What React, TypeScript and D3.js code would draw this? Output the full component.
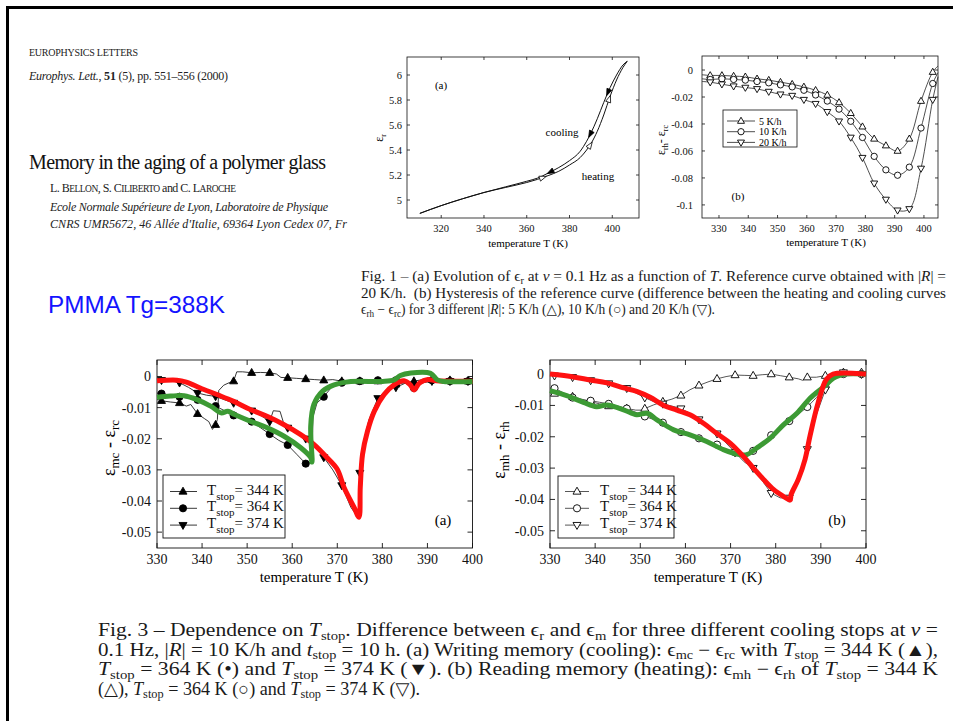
import React from "react";
import * as d3 from "d3";

type P = [number, number];

const SERIF = '"Liberation Serif","DejaVu Serif",serif';
const SANS = '"Liberation Sans",Arial,sans-serif';

// ---------- Fig. 1(a) ----------
const fig1aXTicks = [320, 340, 360, 380, 400];
const fig1aYTicks = [5, 5.2, 5.4, 5.6, 5.8, 6];
const fig1aCooling: P[] = [
  [310, 4.893], [320, 4.955], [330, 5.01], [340, 5.06], [350, 5.105], [360, 5.15], [365, 5.175],
  [370, 5.215], [375, 5.26], [380, 5.315], [385, 5.39], [388, 5.47], [390, 5.535], [393, 5.65],
  [396, 5.78], [399, 5.9], [402, 6.0], [405, 6.08], [407, 6.11],
];
const fig1aHeating: P[] = [
  [310, 4.893], [320, 4.955], [330, 5.01], [340, 5.06], [350, 5.1], [360, 5.14], [365, 5.165],
  [370, 5.195], [375, 5.23], [380, 5.28], [385, 5.34], [388, 5.4], [390, 5.45], [393, 5.55],
  [396, 5.68], [399, 5.83], [402, 5.96], [405, 6.06], [407, 6.11],
];
const fig1aCoolArrows: P[] = [[371, 5.224], [389.7, 5.525], [398, 5.86]];
const fig1aHeatArrows: P[] = [[367.6, 5.18], [389.7, 5.44], [398.6, 5.81]];

// ---------- Fig. 1(b) ----------
const fig1bXTicks = [330, 340, 350, 360, 370, 380, 390, 400];
const fig1bYTicks = [0, -0.02, -0.04, -0.06, -0.08, -0.1];
const fig1bRate5: P[] = [
  [324.2, -0.0035], [327, -0.004], [331, -0.004], [335, -0.0045], [339, -0.005], [343, -0.0065],
  [347, -0.0075], [351, -0.009], [355, -0.0105], [359, -0.0125], [363, -0.015], [367, -0.0185],
  [371, -0.024], [375, -0.032], [379, -0.042], [383, -0.051], [387, -0.056], [391, -0.06],
  [395, -0.051], [399, -0.023], [403, -0.0015], [404.8, 0.003],
];
const fig1bRate10: P[] = [
  [324.2, -0.0065], [327, -0.007], [331, -0.0065], [335, -0.007], [339, -0.0075], [343, -0.0085],
  [347, -0.0095], [351, -0.011], [355, -0.0125], [359, -0.015], [363, -0.0185], [367, -0.023],
  [371, -0.029], [375, -0.038], [379, -0.05], [383, -0.064], [387, -0.074], [391, -0.078],
  [395, -0.072], [399, -0.043], [403, -0.01], [404.8, -0.002],
];
const fig1bRate20: P[] = [
  [324.2, -0.0085], [327, -0.009], [331, -0.0105], [335, -0.012], [339, -0.013], [343, -0.014],
  [347, -0.016], [351, -0.018], [355, -0.019], [359, -0.022], [363, -0.025], [367, -0.031],
  [371, -0.038], [375, -0.05], [379, -0.065], [383, -0.084], [387, -0.096], [391, -0.104],
  [395, -0.103], [399, -0.073], [403, -0.022], [404.8, -0.005],
];
const fig1bLegend = ["5 K/h", "10 K/h", "20 K/h"];

// ---------- Fig. 3 ----------
const fig3XTicks = [330, 340, 350, 360, 370, 380, 390, 400];
const fig3YTicks = [0, -0.01, -0.02, -0.03, -0.04, -0.05];
const fig3Legend = ["344 K", "364 K", "374 K"];

const fig3aStop344: P[] = [
  [330, -0.0073], [331, -0.0078], [333, -0.0082], [335, -0.0085], [336.5, -0.0095], [337.5, -0.009],
  [339, -0.012], [340.5, -0.0135], [341.5, -0.0145], [342.3, -0.017], [343, -0.0155], [343.4, -0.0138],
  [343.7, -0.0045], [344.8, -0.0028], [346, -0.002], [347, -0.0015], [347.7, 0.0015], [349, 0.0015],
  [351, 0.0012], [353, 0.0013], [355, 0.0012], [356.5, 0.0008], [357.5, -0.0003], [359, -0.0004],
  [361, -0.0006], [363, -0.0008], [365, -0.001], [367, -0.0012], [369, -0.001], [371, -0.0015],
  [373, -0.0013], [375, -0.0015], [377, -0.0012], [379, -0.0015], [381, -0.0013], [383, -0.0025],
  [385, -0.002], [387, -0.0015], [389, -0.001], [391, -0.001], [393, -0.0015], [395, -0.0012],
  [397, -0.0015], [399, -0.0015], [400, -0.0015],
];
const fig3aStop364: P[] = [
  [330, -0.0053], [331, -0.0055], [333, -0.006], [335, -0.0065], [337, -0.007], [339, -0.0075],
  [341, -0.0085], [343, -0.0095], [345, -0.011], [347, -0.0125], [349, -0.0135], [351, -0.0145],
  [353, -0.0165], [355, -0.0185], [357, -0.0205], [359, -0.022], [361, -0.025], [363, -0.028],
  [364.4, -0.0275], [364.6, -0.013], [365.5, -0.0085], [367, -0.0065], [369, -0.003], [371, -0.002],
  [373, -0.0017], [375, -0.0015], [377, -0.0014], [379, -0.0012], [381, -0.0012], [383, -0.0012],
  [385, -0.002], [387, -0.0037], [388.5, -0.0025], [390, -0.0012], [391, -0.0012], [393, -0.0015],
  [395, -0.0015], [397, -0.0015], [399, -0.0015], [400, -0.0015],
];
const fig3aStop374: P[] = [
  [330, -0.0012], [331, -0.0012], [333, -0.0013], [335, -0.002], [337, -0.0035], [339, -0.0053],
  [341, -0.006], [343, -0.0064], [345, -0.0075], [347, -0.0085], [349, -0.0095], [351, -0.011],
  [353, -0.0125], [355, -0.0145], [355.8, -0.011], [357.3, -0.0112], [358, -0.0145], [359, -0.0165],
  [361, -0.018], [363, -0.02], [365, -0.0225], [367, -0.026], [369, -0.03], [371, -0.035],
  [373, -0.042], [374.7, -0.0455], [375, -0.031], [376, -0.02], [377, -0.014], [379, -0.007],
  [381, -0.004], [383, -0.0035], [385, -0.0022], [387, -0.003], [389, -0.002], [391, -0.0015],
  [393, -0.0015], [395, -0.0015], [397, -0.0015], [399, -0.0015], [400, -0.0015],
];
const fig3aRed: P[] = [
  [330, -0.0014], [334.4, -0.0012], [336.5, -0.0018], [339.6, -0.0037], [343.3, -0.0058],
  [347, -0.008], [350.7, -0.0106], [354.4, -0.0128], [358.1, -0.0154], [361.8, -0.0186],
  [364.8, -0.0218], [367.7, -0.026], [370, -0.0298], [371.5, -0.0357], [373.7, -0.042],
  [374.8, -0.0452], [375.1, -0.0356], [375.6, -0.025], [376.7, -0.0176], [378.2, -0.0112],
  [380.4, -0.0058], [382.6, -0.0027], [384.8, -0.0014], [386.2, -0.0027], [387, -0.0043],
  [388.3, -0.002], [390.1, -0.001], [392, -0.0014], [400, -0.0015],
];
const fig3aGreen: P[] = [
  [330, -0.0067], [333, -0.0063], [336, -0.0062], [339, -0.0075], [342, -0.0096], [344.2, -0.0117],
  [345.7, -0.0112], [347.2, -0.0122], [350.8, -0.0144], [354.5, -0.0165], [358.2, -0.0192],
  [361.9, -0.0229], [364.1, -0.026], [364.4, -0.0275], [364.1, -0.016], [364.8, -0.009],
  [366.7, -0.0048], [369.3, -0.0027], [373, -0.0016], [380, -0.0016], [382.6, -0.0011],
  [384, 0.0003], [386.3, 0.0011], [390.7, 0.001], [392.2, -0.0011], [393.6, -0.0016], [400, -0.0016],
];

const fig3bStop344: P[] = [
  [330, -0.006], [331, -0.0062], [333, -0.0068], [335, -0.0072], [337, -0.008], [339, -0.0088],
  [341, -0.0095], [343, -0.0102], [345, -0.0106], [347, -0.011], [349, -0.0115], [350.5, -0.0115],
  [351, -0.011], [353, -0.0098], [355, -0.0088], [357, -0.008], [359, -0.0068], [361, -0.005],
  [363, -0.0036], [365, -0.0025], [367, -0.0015], [369, -0.0008], [371, -0.0003], [373, -0.0004],
  [375, -0.0005], [377, -0.0002], [379, 0], [381, -0.0005], [383, -0.001], [385, -0.0015],
  [386, -0.002], [387, -0.001], [389, -0.001], [391, -0.0005], [393, 0], [395, 0.0005],
  [397, 0.0002], [399, 0.0005], [400, 0.0008],
];
const fig3bStop364: P[] = [
  [330, -0.0045], [331, -0.0045], [333, -0.006], [335, -0.0075], [337, -0.0082], [339, -0.0085],
  [341, -0.009], [343, -0.0095], [345, -0.0102], [347, -0.011], [349, -0.0122], [351, -0.0135],
  [353, -0.0145], [355, -0.0155], [357, -0.017], [359, -0.0185], [361, -0.0195], [363, -0.0205],
  [365, -0.0215], [367, -0.0225], [369, -0.024], [371, -0.025], [373, -0.0255], [375, -0.0245],
  [377, -0.022], [379, -0.0195], [381, -0.017], [383, -0.015], [385, -0.0128], [387, -0.0105],
  [389, -0.0075], [391, -0.004], [393, -0.0012], [395, 0], [397, 0], [399, 0], [400, 0],
];
const fig3bStop374: P[] = [
  [330, -0.0003], [331, -0.0005], [333, -0.0008], [335, -0.001], [337, -0.0015], [339, -0.002],
  [341, -0.0025], [343, -0.003], [345, -0.0038], [347, -0.0045], [349, -0.006], [351, -0.0075],
  [353, -0.0088], [355, -0.0095], [357, -0.0102], [359, -0.011], [361, -0.0125], [363, -0.0145],
  [365, -0.0165], [367, -0.019], [369, -0.022], [371, -0.025], [373, -0.028], [375, -0.03],
  [377, -0.034], [379, -0.038], [381, -0.0395], [383, -0.0395], [384, -0.037], [385, -0.033],
  [387, -0.024], [389, -0.013], [391, -0.005], [393, -0.0008], [395, 0.0005], [397, 0], [399, 0], [400, 0],
];
const fig3bRed: P[] = [
  [330, 0], [335.2, -0.0009], [338.9, -0.0019], [342.6, -0.0028], [346.3, -0.0044], [349.2, -0.0055],
  [352.2, -0.0074], [355.2, -0.01], [358.1, -0.0115], [361, -0.013], [364, -0.0157], [366.9, -0.0189],
  [369.9, -0.022], [372.8, -0.0262], [375, -0.0299], [377.3, -0.0336], [379.5, -0.0368],
  [381.7, -0.039], [383.2, -0.0402], [383.4, -0.0385], [385, -0.0336], [386.5, -0.0272],
  [387.6, -0.0197], [389.4, -0.0091], [391.2, -0.0017], [392.7, 0], [400, 0],
];
const fig3bGreen: P[] = [
  [330, -0.0053], [333.7, -0.0069], [337.4, -0.009], [340.3, -0.0104], [342.6, -0.0099],
  [346.3, -0.0114], [349.2, -0.013], [351.5, -0.0125], [353.7, -0.0146], [357.4, -0.0178],
  [361, -0.0194], [364.7, -0.0215], [368.4, -0.0241], [372.1, -0.0257], [373.6, -0.0257],
  [375.8, -0.0236], [378.8, -0.0204], [381.7, -0.0162], [384.7, -0.0125], [387.6, -0.0077],
  [390.6, -0.0041], [392.7, -0.0014], [394.2, -0.0004], [395.5, 0], [400, 0],
];

// ---------- Captions ----------
const fig1Caption = [
  "Fig. 1 – (a) Evolution of ϵ_{r} at *ν* = 0.1 Hz as a function of *T*. Reference curve obtained with |*R*| =",
  "20 K/h.  (b) Hysteresis of the reference curve (difference between the heating and cooling curves",
  "ϵ_{rh} − ϵ_{rc}) for 3 different |*R*|: 5 K/h (△), 10 K/h (○) and 20 K/h (▽).",
];
const fig3Caption = [
  "Fig. 3 – Dependence on *T*_{stop}. Difference between ϵ_{r} and ϵ_{m} for three different cooling stops at *ν* =",
  "0.1 Hz, |*R*| = 10 K/h and *t*_{stop} = 10 h. (a) Writing memory (cooling): ϵ_{mc} − ϵ_{rc} with *T*_{stop} = 344 K (▲),",
  "*T*_{stop} = 364 K (•) and *T*_{stop} = 374 K (▼). (b) Reading memory (heating): ϵ_{mh} − ϵ_{rh} of *T*_{stop} = 344 K",
  "(△), *T*_{stop} = 364 K (○) and *T*_{stop} = 374 K (▽).",
];

type Scale = d3.ScaleLinear<number, number>;

function Rich({ x, y, text, fs, len, adjust }: { x: number; y: number; text: string; fs: number; len?: number; adjust?: string }) {
  const parts = text.split(/(_\{[^}]*\}|\*[^*]*\*)/).filter((s) => s.length > 0);
  const sub = fs * 0.22;
  let shifted = false;
  const kids = parts.map((p, i) => {
    if (p.startsWith("_{")) {
      shifted = true;
      return (
        <tspan key={i} dy={sub} fontSize={fs * 0.68}>
          {p.slice(2, -1)}
        </tspan>
      );
    }
    const dy = shifted ? -sub : undefined;
    shifted = false;
    if (p.startsWith("*"))
      return (
        <tspan key={i} dy={dy} fontStyle="italic">
          {p.slice(1, -1)}
        </tspan>
      );
    return (
      <tspan key={i} dy={dy}>
        {p}
      </tspan>
    );
  });
  return (
    <text x={x} y={y} fontSize={fs} textLength={len} lengthAdjust={len ? adjust || "spacing" : undefined} xmlSpace="preserve" fill="#1a1a1a">
      {kids}
    </text>
  );
}

function Frame({
  xs, ys, xTicks, yTicks, fs, tick, xLabelDy, yLabelDx, sw = 0.9,
}: {
  xs: Scale; ys: Scale; xTicks: number[]; yTicks: number[]; fs: number; tick: number;
  xLabelDy: number; yLabelDx: number; sw?: number;
}) {
  const [x0, x1] = xs.range();
  const [yb, yt] = ys.range();
  return (
    <g stroke="none">
      <rect x={x0} y={yt} width={x1 - x0} height={yb - yt} fill="none" stroke="#111" strokeWidth={sw} />
      {xTicks.map((t) => (
        <g key={"x" + t}>
          <line x1={xs(t)} x2={xs(t)} y1={yb} y2={yb - tick} stroke="#111" strokeWidth={sw} />
          <line x1={xs(t)} x2={xs(t)} y1={yt} y2={yt + tick} stroke="#111" strokeWidth={sw} />
          <text x={xs(t)} y={yb + xLabelDy} textAnchor="middle" fontSize={fs} fill="#111">
            {String(t)}
          </text>
        </g>
      ))}
      {yTicks.map((t) => (
        <g key={"y" + t}>
          <line x1={x0} x2={x0 + tick} y1={ys(t)} y2={ys(t)} stroke="#111" strokeWidth={sw} />
          <line x1={x1} x2={x1 - tick} y1={ys(t)} y2={ys(t)} stroke="#111" strokeWidth={sw} />
          <text x={x0 - yLabelDx} y={ys(t)} dy="0.35em" textAnchor="end" fontSize={fs} fill="#111">
            {String(t)}
          </text>
        </g>
      ))}
    </g>
  );
}

type Shape = "up" | "down" | "circle";
function Marker({ shape, x, y, s, filled }: { shape: Shape; x: number; y: number; s: number; filled: boolean }) {
  const fill = filled ? "#000" : "#fff";
  if (shape === "circle")
    return <circle cx={x} cy={y} r={s * 0.45} fill={fill} stroke="#000" strokeWidth={0.9} />;
  const h = s * 0.87;
  const pts =
    shape === "up"
      ? [[x, y - h * 0.62], [x - s / 2, y + h * 0.38], [x + s / 2, y + h * 0.38]]
      : [[x, y + h * 0.62], [x - s / 2, y - h * 0.38], [x + s / 2, y - h * 0.38]];
  return <polygon points={pts.map((p) => p.join(",")).join(" ")} fill={fill} stroke="#000" strokeWidth={0.9} />;
}

const isMarkerT = (t: number) => Number.isInteger(t) && t % 4 === 3;

function Series({
  data, xs, ys, shape, filled, s, stroke = "#222", sw = 0.9, curve = d3.curveLinear,
}: {
  data: P[]; xs: Scale; ys: Scale; shape: Shape; filled: boolean; s: number; stroke?: string; sw?: number; curve?: any;
}) {
  const line = d3.line<P>().x((d) => xs(d[0])).y((d) => ys(d[1])).curve(curve);
  return (
    <g>
      <path d={line(data) || ""} fill="none" stroke={stroke} strokeWidth={sw} />
      {data.filter((d) => isMarkerT(d[0])).map((d, i) => (
        <Marker key={i} shape={shape} x={xs(d[0])} y={ys(d[1])} s={s} filled={filled} />
      ))}
    </g>
  );
}

function Thick({ data, xs, ys, color }: { data: P[]; xs: Scale; ys: Scale; color: string }) {
  const line = d3.line<P>().x((d) => xs(d[0])).y((d) => ys(d[1])).curve(d3.curveCatmullRom.alpha(0.5));
  return <path d={line(data) || ""} fill="none" stroke={color} strokeWidth={5} strokeLinejoin="round" />;
}

function Arrow({ curve, pt, xs, ys, reverse, filled }: { curve: P[]; pt: P; xs: Scale; ys: Scale; reverse: boolean; filled: boolean }) {
  let i = 0;
  while (i < curve.length - 2 && curve[i + 1][0] < pt[0]) i++;
  const a = curve[i], b = curve[i + 1];
  let ang = Math.atan2(ys(b[1]) - ys(a[1]), xs(b[0]) - xs(a[0]));
  if (reverse) ang += Math.PI;
  const cx = xs(pt[0]), cy = ys(pt[1]);
  const L = 7, Wd = 2.6;
  const tip = [cx + Math.cos(ang) * L * 0.5, cy + Math.sin(ang) * L * 0.5];
  const bx = cx - Math.cos(ang) * L * 0.5, by = cy - Math.sin(ang) * L * 0.5;
  const p1 = [bx - Math.sin(ang) * Wd, by + Math.cos(ang) * Wd];
  const p2 = [bx + Math.sin(ang) * Wd, by - Math.cos(ang) * Wd];
  return (
    <polygon
      points={[tip, p1, p2].map((p) => p.join(",")).join(" ")}
      fill={filled ? "#000" : "#fff"}
      stroke="#000"
      strokeWidth={0.8}
    />
  );
}

function StopLabel({ x, y, value }: { x: number; y: number; value: string }) {
  return (
    <text x={x} y={y} fontSize={15} fill="#111" xmlSpace="preserve">
      T<tspan dy={5} fontSize={11}>stop</tspan>
      <tspan dy={-5}>{"= " + value}</tspan>
    </text>
  );
}

export default function App() {
  // Fig 1a
  const x1a = d3.scaleLinear().domain([304, 412.5]).range([407, 639]);
  const y1a = d3.scaleLinear().domain([4.856, 6.144]).range([218, 57]);
  // Fig 1b
  const x1b = d3.scaleLinear().domain([324.2, 404.8]).range([702, 938]);
  const y1b = d3.scaleLinear().domain([-0.1097, 0.0104]).range([218, 56]);
  // Fig 3a
  const x3a = d3.scaleLinear().domain([330, 400]).range([157, 472.5]);
  const y3a = d3.scaleLinear().domain([-0.0551, 0.0053]).range([548, 360]);
  // Fig 3b
  const x3b = d3.scaleLinear().domain([330, 400]).range([550, 866]);
  const y3b = d3.scaleLinear().domain([-0.0555, 0.0045]).range([548, 360]);

  const smooth = d3.curveCatmullRom.alpha(0.5);
  const shapes: Shape[] = ["up", "circle", "down"];

  return (
    <svg
      width={953}
      height={721}
      viewBox="0 0 953 721"
      style={{ position: "absolute", left: 0, top: 0, background: "#fff", display: "block" }}
      fontFamily={SERIF}
    >
      <rect x={0} y={0} width={953} height={721} fill="#fff" />
      {/* slide frame */}
      <rect x={6} y={6} width={3} height={715} fill="#000" />
      <rect x={6} y={6} width={947} height={3} fill="#000" />

      {/* header */}
      <text x={29} y={56} fontSize={10} textLength={109} lengthAdjust="spacing" fill="#222">
        EUROPHYSICS LETTERS
      </text>
      <text x={29} y={80} fontSize={12} textLength={199} lengthAdjust="spacing" fill="#222" xmlSpace="preserve">
        <tspan fontStyle="italic">Europhys. Lett.</tspan>, <tspan fontWeight="bold">51</tspan> (5), pp. 551–556 (2000)
      </text>
      <text x={29} y={169} fontSize={20} textLength={297} lengthAdjust="spacing" fill="#111">
        Memory in the aging of a polymer glass
      </text>
      <text x={50} y={192} fontSize={12} textLength={186} lengthAdjust="spacing" fill="#222" xmlSpace="preserve">
        L. B<tspan fontSize={9.5}>ELLON</tspan>, S. C<tspan fontSize={9.5}>ILIBERTO</tspan> and C. L
        <tspan fontSize={9.5}>AROCHE</tspan>
      </text>
      <text x={50} y={211} fontSize={12} fontStyle="italic" textLength={278} lengthAdjust="spacing" fill="#222">
        Ecole Normale Supérieure de Lyon, Laboratoire de Physique
      </text>
      <text x={50} y={228} fontSize={12} fontStyle="italic" textLength={297} lengthAdjust="spacing" fill="#222">
        CNRS UMR5672, 46 Allée d'Italie, 69364 Lyon Cedex 07, Fr
      </text>

      <text x={48} y={313} fontSize={23} fontFamily={SANS} fill="#1414ff" textLength={177} lengthAdjust="spacingAndGlyphs">
        PMMA Tg=388K
      </text>

      {/* ---------- Fig 1a ---------- */}
      <Frame xs={x1a} ys={y1a} xTicks={fig1aXTicks} yTicks={fig1aYTicks} fs={10.5} tick={3} xLabelDy={14} yLabelDx={5} sw={0.8} />
      <path d={d3.line<P>().x((d) => x1a(d[0])).y((d) => y1a(d[1])).curve(d3.curveMonotoneX)(fig1aCooling) || ""} fill="none" stroke="#111" strokeWidth={1} />
      <path d={d3.line<P>().x((d) => x1a(d[0])).y((d) => y1a(d[1])).curve(d3.curveMonotoneX)(fig1aHeating) || ""} fill="none" stroke="#111" strokeWidth={1} />
      {fig1aCoolArrows.map((p, i) => (
        <Arrow key={"c" + i} curve={fig1aCooling} pt={p} xs={x1a} ys={y1a} reverse={true} filled={true} />
      ))}
      {fig1aHeatArrows.map((p, i) => (
        <Arrow key={"h" + i} curve={fig1aHeating} pt={p} xs={x1a} ys={y1a} reverse={false} filled={false} />
      ))}
      <text x={441} y={89} fontSize={11} textAnchor="middle">(a)</text>
      <text x={562} y={136} fontSize={11} textAnchor="middle">cooling</text>
      <text x={598} y={180} fontSize={11} textAnchor="middle">heating</text>
      <text x={528} y={247} fontSize={11} textAnchor="middle">temperature T (K)</text>
      <text transform="translate(383,138) rotate(-90)" fontSize={12} textAnchor="middle">
        ε<tspan dy={3} fontSize={8}>r</tspan>
      </text>

      {/* ---------- Fig 1b ---------- */}
      <Frame xs={x1b} ys={y1b} xTicks={fig1bXTicks} yTicks={fig1bYTicks} fs={10.5} tick={3} xLabelDy={14} yLabelDx={9} sw={0.8} />
      <Series data={fig1bRate5} xs={x1b} ys={y1b} shape="up" filled={false} s={7} sw={0.8} curve={smooth} />
      <Series data={fig1bRate10} xs={x1b} ys={y1b} shape="circle" filled={false} s={7} sw={0.8} curve={smooth} />
      <Series data={fig1bRate20} xs={x1b} ys={y1b} shape="down" filled={false} s={7} sw={0.8} curve={smooth} />
      <rect x={723} y={110} width={74} height={37} fill="#fff" stroke="#111" strokeWidth={0.8} />
      {fig1bLegend.map((lab, i) => {
        const yy = 121 + i * 10.7;
        return (
          <g key={lab}>
            <line x1={727} x2={755} y1={yy} y2={yy} stroke="#222" strokeWidth={0.8} />
            <Marker shape={shapes[i]} x={741} y={yy} s={7} filled={false} />
            <text x={759} y={yy} dy="0.35em" fontSize={10}>{lab}</text>
          </g>
        );
      })}
      <text x={738} y={200} fontSize={11} textAnchor="middle">(b)</text>
      <text x={826} y={246} fontSize={11} textAnchor="middle">temperature T (K)</text>
      <text transform="translate(665,140) rotate(-90)" fontSize={12} textAnchor="middle" xmlSpace="preserve">
        ε<tspan dy={3} fontSize={8}>rh</tspan>
        <tspan dy={-3}>- ε</tspan>
        <tspan dy={3} fontSize={8}>rc</tspan>
      </text>

      {/* Fig 1 caption */}
      {fig1Caption.map((line, i) => (
        <Rich key={i} x={361} y={281 + i * 16.6} text={line} fs={14} len={i < 2 ? 585 : 354} adjust="spacingAndGlyphs" />
      ))}

      {/* ---------- Fig 3a ---------- */}
      <Frame xs={x3a} ys={y3a} xTicks={fig3XTicks} yTicks={fig3YTicks} fs={14} tick={5} xLabelDy={16} yLabelDx={6} />
      <Series data={fig3aStop344} xs={x3a} ys={y3a} shape="up" filled={true} s={8} />
      <Series data={fig3aStop364} xs={x3a} ys={y3a} shape="circle" filled={true} s={8} />
      <Series data={fig3aStop374} xs={x3a} ys={y3a} shape="down" filled={true} s={8} />
      <Thick data={fig3aRed} xs={x3a} ys={y3a} color="#ff1111" />
      <Thick data={fig3aGreen} xs={x3a} ys={y3a} color="#3c9a34" />
      <rect x={163} y={475} width={122} height={63} fill="#fff" stroke="#111" strokeWidth={0.9} />
      {fig3Legend.map((lab, i) => {
        const yy = 491.5 + i * 16.8;
        return (
          <g key={lab}>
            <line x1={170} x2={197} y1={yy} y2={yy} stroke="#222" strokeWidth={0.9} />
            <Marker shape={shapes[i]} x={183} y={yy} s={8} filled={true} />
            <StopLabel x={207} y={yy + 3} value={lab} />
          </g>
        );
      })}
      <text x={443} y={525} fontSize={15} textAnchor="middle">(a)</text>
      <text x={314} y={582} fontSize={15} textAnchor="middle">temperature T (K)</text>
      <text transform="translate(115,448) rotate(-90)" fontSize={18} textAnchor="middle" xmlSpace="preserve">
        ε<tspan dy={4} fontSize={13}>mc</tspan>
        <tspan dy={-4}> - ε</tspan>
        <tspan dy={4} fontSize={13}>rc</tspan>
      </text>

      {/* ---------- Fig 3b ---------- */}
      <Frame xs={x3b} ys={y3b} xTicks={fig3XTicks} yTicks={fig3YTicks} fs={14} tick={5} xLabelDy={16} yLabelDx={6} />
      <Series data={fig3bStop344} xs={x3b} ys={y3b} shape="up" filled={false} s={8} stroke="#444" />
      <Series data={fig3bStop364} xs={x3b} ys={y3b} shape="circle" filled={false} s={8} stroke="#444" />
      <Series data={fig3bStop374} xs={x3b} ys={y3b} shape="down" filled={false} s={8} stroke="#444" />
      <Thick data={fig3bGreen} xs={x3b} ys={y3b} color="#3c9a34" />
      <Thick data={fig3bRed} xs={x3b} ys={y3b} color="#ff1111" />
      <rect x={558} y={476} width={116} height={62} fill="#fff" stroke="#111" strokeWidth={0.9} />
      {fig3Legend.map((lab, i) => {
        const yy = 491.5 + i * 16.8;
        return (
          <g key={lab}>
            <line x1={565} x2={589} y1={yy} y2={yy} stroke="#444" strokeWidth={0.9} />
            <Marker shape={shapes[i]} x={577} y={yy} s={8} filled={false} />
            <StopLabel x={600} y={yy + 3} value={lab} />
          </g>
        );
      })}
      <text x={837} y={525} fontSize={15} textAnchor="middle">(b)</text>
      <text x={708} y={582} fontSize={15} textAnchor="middle">temperature T (K)</text>
      <text transform="translate(505,450) rotate(-90)" fontSize={18} textAnchor="middle" xmlSpace="preserve">
        ε<tspan dy={4} fontSize={13}>mh</tspan>
        <tspan dy={-4}> - ε</tspan>
        <tspan dy={4} fontSize={13}>rh</tspan>
      </text>

      {/* Fig 3 caption */}
      {fig3Caption.map((line, i) => (
        <Rich key={i} x={98} y={636 + i * 19.5} text={line} fs={18} len={i < 3 ? 840 : 322} adjust="spacingAndGlyphs" />
      ))}
    </svg>
  );
}
